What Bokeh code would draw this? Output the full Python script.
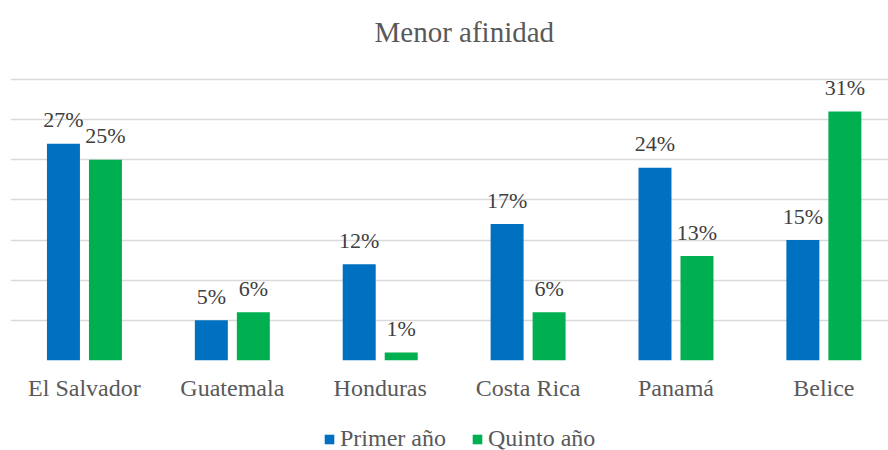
from bokeh.plotting import figure
from bokeh.layouts import column
from bokeh.models import (ColumnDataSource, Range1d, FixedTicker, Legend, LegendItem, Title)
from bokeh.transform import dodge
from bokeh.core.properties import value
from bokeh.embed import file_html
from bokeh.resources import INLINE

categories = ["El Salvador", "Guatemala", "Honduras", "Costa Rica", "Panamá", "Belice"]
primer_anio = [27, 5, 12, 17, 24, 15]
quinto_anio = [25, 6, 1, 6, 13, 31]
series_names = ["Primer año", "Quinto año"]
colors = ["#0070C0", "#00B050"]

idx = list(range(len(categories)))
src = ColumnDataSource(dict(
    x=idx,
    p=primer_anio,
    q=quinto_anio,
    pl=[f"{v}%" for v in primer_anio],
    ql=[f"{v}%" for v in quinto_anio],
))

FONT = "Liberation Serif"

p = figure(width=888, height=410, output_backend="svg", toolbar_location=None,
           x_range=Range1d(-0.5, 5.437), y_range=Range1d(0, 37.24),
           y_axis_location=None, min_border_left=10, min_border_right=0,
           min_border_top=60, min_border_bottom=50)
p.title = None
p.add_layout(Title(text="Menor afinidad", align="left", offset=364, standoff=27,
                   text_font=FONT, text_font_size="29px", text_font_style="normal",
                   text_color="#595959"), "above")

off = 0.142
w = 0.223
r1 = p.vbar(x=dodge("x", -off, range=p.x_range), top="p", width=w, source=src,
            fill_color=colors[0], line_color=None)
r2 = p.vbar(x=dodge("x", off, range=p.x_range), top="q", width=w, source=src,
            fill_color=colors[1], line_color=None)

p.text(x=dodge("x", -off, range=p.x_range), y="p", text="pl", source=src,
       text_align="center", text_baseline="alphabetic", y_offset=-24,
       text_font=value(FONT), text_font_size="22px", text_color="#404040")
p.text(x=dodge("x", off, range=p.x_range), y="q", text="ql", source=src,
       text_align="center", text_baseline="alphabetic", y_offset=-24,
       text_font=value(FONT), text_font_size="22px", text_color="#404040")

p.xaxis.ticker = FixedTicker(ticks=idx)
p.xaxis.major_label_overrides = {i: c for i, c in zip(idx, categories)}
p.xaxis.major_label_text_font = FONT
p.xaxis.major_label_text_font_size = "24px"
p.xaxis.major_label_text_color = "#595959"
p.xaxis.major_label_standoff = 14
p.xaxis.major_tick_out = 0
p.xaxis.major_tick_in = 0
p.xaxis.minor_tick_line_color = None
p.xaxis.axis_line_color = None

p.xgrid.visible = False
p.ygrid.ticker = FixedTicker(ticks=[0, 5, 10, 15, 20, 25, 30, 35])
p.ygrid.grid_line_color = "#D9D9D9"
p.ygrid.grid_line_width = 1.5

p.outline_line_color = None
p.background_fill_color = "white"
p.border_fill_color = "white"

# legend strip below the chart (its bars lie outside its visible range)
lf = figure(width=888, height=40, output_backend="svg", toolbar_location=None,
            x_range=Range1d(0, 1), y_range=Range1d(1000, 1001),
            x_axis_location=None, y_axis_location=None,
            min_border_left=10, min_border_right=0, min_border_top=0, min_border_bottom=0)
lf.xgrid.visible = False
lf.ygrid.visible = False
lf.outline_line_color = None
l1 = lf.vbar(x="x", top="p", width=w, source=src, fill_color=colors[0], line_color=None)
l2 = lf.vbar(x="x", top="q", width=w, source=src, fill_color=colors[1], line_color=None)

legend = Legend(items=[LegendItem(label=series_names[0], renderers=[l1]),
                       LegendItem(label=series_names[1], renderers=[l2])],
                orientation="horizontal", location=(313, -2),
                glyph_width=12, glyph_height=12, label_standoff=5, spacing=25,
                padding=0, margin=0, border_line_color=None,
                background_fill_alpha=0,
                label_text_font=FONT, label_text_font_size="24px",
                label_text_color="#595959")
lf.add_layout(legend, "center")

layout = column(p, lf, spacing=0)
open("out.html", "w").write(file_html(layout, INLINE))
